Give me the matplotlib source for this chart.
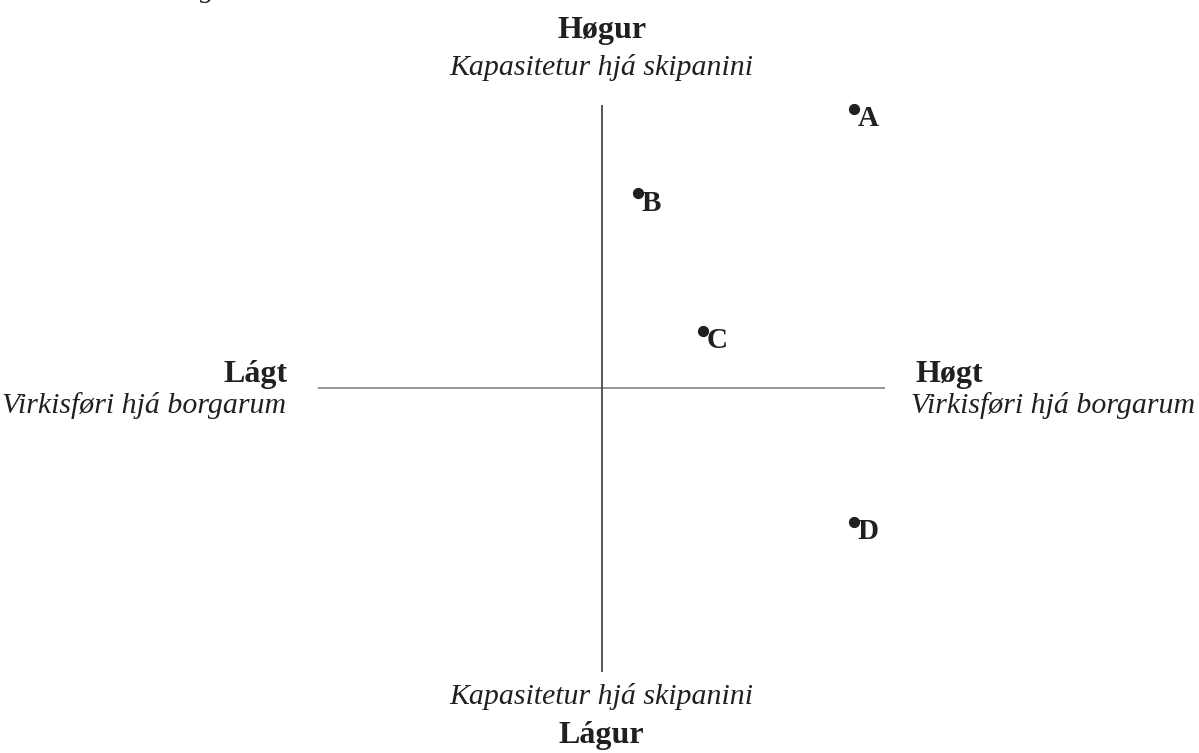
import matplotlib
matplotlib.use("Agg")
import matplotlib.pyplot as plt

# Data
labels = ["A", "B", "C", "D"]
x_vals = [0.891, 0.127, 0.356, 0.890]
y_vals = [0.984, 0.687, 0.201, -0.472]

top_title = "Høgur"
top_sub = "Kapasitetur hjá skipanini"
bottom_title = "Lágur"
bottom_sub = "Kapasitetur hjá skipanini"
left_title = "Lágt"
left_sub = "Virkisføri hjá borgarum"
right_title = "Høgt"
right_sub = "Virkisføri hjá borgarum"

W, H = 1199, 753
fig = plt.figure(figsize=(W / 100, H / 100), dpi=100)
fig.patch.set_facecolor("white")

cx, cy, r = 601.7, 388.0, 283.5
ax = fig.add_axes([(cx - r) / W, (H - cy - r) / H, 2 * r / W, 2 * r / H])
ax.set_xlim(-1, 1)
ax.set_ylim(-1, 1)
ax.axis("off")

ink = "#231f20"
serif = ["Liberation Serif", "DejaVu Serif"]

ax.plot([-1, 1], [0, 0], color="#8c8c8c", lw=1.3, solid_capstyle="butt")
ax.plot([0, 0], [-1, 1], color="#3a3a3a", lw=1.2, solid_capstyle="butt")

ax.scatter(x_vals, y_vals, s=50, color=ink, zorder=3, clip_on=False)
for lab, xv, yv in zip(labels, x_vals, y_vals):
    ax.annotate(lab, (xv, yv), xytext=(2.8, -12.5), textcoords="offset points",
                ha="left", va="baseline", fontsize=21, fontweight="bold",
                family=serif, color=ink, annotation_clip=False)

bold_kw = dict(fontsize=23, fontweight="bold", family=serif, color=ink,
               va="baseline", clip_on=False)
ital_kw = dict(fontsize=21.5, style="italic", family=serif, color=ink,
               va="baseline", clip_on=False)

def dy(py):
    return (cy - py) / r

def dx(px):
    return (px - cx) / r

ax.text(0, dy(38), top_title, ha="center", **bold_kw)
ax.text(0, dy(75), top_sub, ha="center", **ital_kw)
ax.text(0, dy(704), bottom_sub, ha="center", **ital_kw)
ax.text(0, dy(743), bottom_title, ha="center", **bold_kw)
ax.text(dx(288), dy(382), left_title, ha="right", **bold_kw)
ax.text(dx(286), dy(413), left_sub, ha="right", **ital_kw)
ax.text(dx(915), dy(382), right_title, ha="left", **bold_kw)
ax.text(dx(911), dy(413), right_sub, ha="left", **ital_kw)

# cropped caption fragment at top-left edge (as in the reference)
fig.text(200 / W, 1.0 + 3 / H, "g", ha="left", va="baseline", fontsize=21,
         style="italic", family=serif, color=ink)

fig.savefig("out.png", dpi=100, facecolor="white")
